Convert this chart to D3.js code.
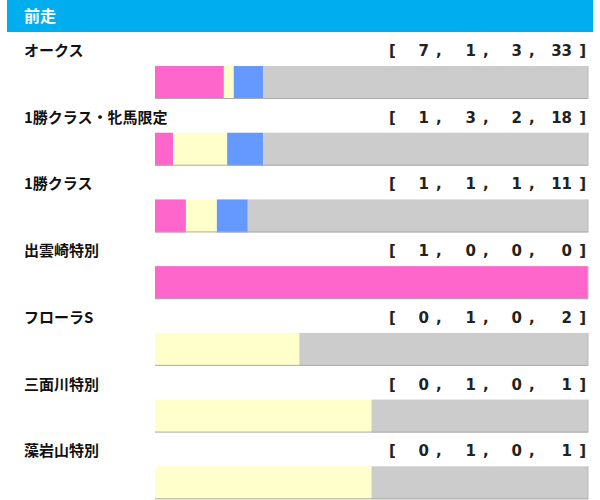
<!DOCTYPE html>
<html>
<head>
<meta charset="utf-8">
<script src="https://cdnjs.cloudflare.com/ajax/libs/d3/7.8.5/d3.min.js"></script>
<style>body{margin:0;background:#fff;}</style>
</head>
<body>
<div id="chart"></div>
<script>
var races = ["オークス", "1勝クラス・牝馬限定", "1勝クラス", "出雲崎特別", "フローラS", "三面川特別", "藻岩山特別"];
var first = [7, 1, 1, 1, 0, 0, 0];
var second = [1, 3, 1, 0, 1, 1, 1];
var third = [3, 2, 1, 0, 0, 0, 0];
var other = [33, 18, 11, 0, 2, 1, 1];
var colours = ["#FF66CC", "#FFFFCC", "#6699FF", "#CCCCCC"];

var svg = d3.select("#chart").append("svg").attr("width", 600).attr("height", 500);
var font = "'Noto Sans CJK JP', sans-serif";
var numFont = "'DejaVu Sans', sans-serif";

svg.append("rect").attr("x", 7).attr("y", 0).attr("width", 586).attr("height", 32).attr("fill", "#00AEEF");
svg.append("text").attr("x", 24).attr("y", 22).text("前走").attr("fill", "#fff")
  .attr("font-family", font).attr("font-weight", "bold").attr("font-size", 16);

var y = d3.scaleBand().domain(races).range([33, 500]).paddingInner(0);
var x = d3.scaleLinear().range([155, 588]);

function txt(g, xpos, s, anchor) {
  return g.append("text").attr("x", xpos).attr("y", 23).text(s).attr("text-anchor", anchor || "start")
    .attr("font-family", numFont).attr("font-weight", "bold").attr("font-size", 15).attr("fill", "#222");
}

races.forEach(function(r, i) {
  var vals = [first[i], second[i], third[i], other[i]];
  var total = d3.sum(vals);
  var g = svg.append("g").attr("transform", "translate(0," + y(r) + ")");
  g.append("text").attr("x", 24).attr("y", 23).text(r)
    .attr("font-family", font).attr("font-weight", "bold").attr("font-size", 15).attr("fill", "#111");
  var nx = [429, 476, 522, 572];
  txt(g, 389, "[");
  txt(g, 586, "]", "end");
  vals.forEach(function(v, j) {
    txt(g, nx[j], v, "end");
    if (j < 3) txt(g, nx[j] + 7, ",");
  });
  x.domain([0, total]);
  var acc = 0;
  vals.forEach(function(v, j) {
    if (v > 0) {
      g.append("rect").attr("x", x(acc)).attr("y", 33).attr("width", x(acc + v) - x(acc)).attr("height", 33).attr("fill", colours[j]);
    }
    acc += v;
  });
  g.append("line").attr("x1", 155).attr("x2", 588).attr("y1", 65.5).attr("y2", 65.5).attr("stroke", "#aaa").attr("stroke-width", 1);
  g.append("line").attr("x1", 588).attr("x2", 588).attr("y1", 33).attr("y2", 66).attr("stroke", "#bbb").attr("stroke-width", 1);
});
</script>
</body>
</html>
